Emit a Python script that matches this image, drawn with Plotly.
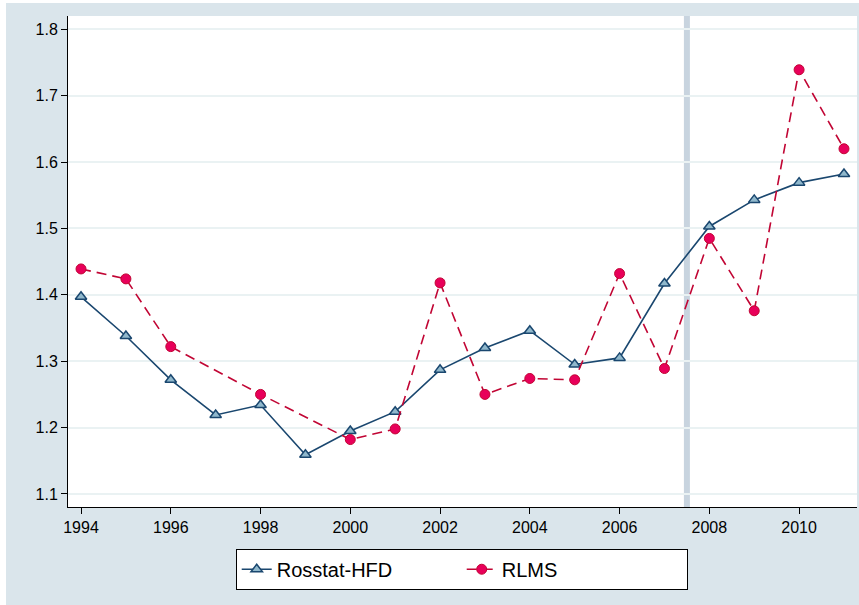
import plotly.graph_objects as go

years = list(range(1994, 2012))
rosstat_hfd = [1.397, 1.338, 1.272, 1.219, 1.234, 1.159, 1.195, 1.224, 1.287,
               1.320, 1.346, 1.295, 1.305, 1.417, 1.503, 1.543, 1.569, 1.582]

rlms_years = [1994, 1995, 1996, 1998, 2000, 2001, 2002, 2003, 2004, 2005,
              2006, 2007, 2008, 2009, 2010, 2011]
rlms = [1.439, 1.424, 1.322, 1.250, 1.182, 1.198, 1.418, 1.250, 1.274, 1.272,
        1.432, 1.289, 1.485, 1.376, 1.739, 1.620]

y_ticks = [1.1, 1.2, 1.3, 1.4, 1.5, 1.6, 1.7, 1.8]
x_ticks = list(range(1994, 2011, 2))
break_year = 2007.5

bg = "#dae5eb"
navy = "#1a476f"
cranberry = "#c10534"

fig = go.Figure()

# thin white strips round the stata-style background
fig.add_shape(type="rect", xref="paper", yref="paper", x0=-0.1, x1=-0.0786,
              y0=-0.3, y1=1.1, fillcolor="white", line_width=0)
fig.add_shape(type="rect", xref="paper", yref="paper", x0=-0.1, x1=1.1,
              y0=1.0265, y1=1.1, fillcolor="white", line_width=0)

fig.add_vline(x=break_year, line_color="#c8d4df", line_width=6, layer="below")

fig.add_trace(go.Scatter(
    x=years, y=rosstat_hfd, name="Rosstat-HFD", mode="lines+markers",
    line=dict(color=navy, width=1.6),
    marker=dict(symbol="triangle-up", size=10, color="#90b8cc",
                line=dict(color=navy, width=1.5)),
))
fig.add_trace(go.Scatter(
    x=rlms_years, y=rlms, name="RLMS", mode="lines+markers",
    line=dict(color=cranberry, width=1.6, dash="10px,6px"),
    marker=dict(symbol="circle", size=10, color="#e8005a",
                line=dict(color=cranberry, width=1)),
))

fig.update_layout(
    width=859, height=605,
    margin=dict(l=68, r=2, t=16, b=98),
    paper_bgcolor=bg, plot_bgcolor="white",
    font=dict(family="Liberation Sans, Arial, sans-serif", size=16, color="black"),
    showlegend=True,
    legend=dict(orientation="h", x=0.499, xanchor="center", y=-0.085, yanchor="top",
                bgcolor="white", bordercolor="black", borderwidth=1,
                font=dict(size=20), entrywidth=180, entrywidthmode="pixels"),
)
fig.update_xaxes(range=[1993.71, 2011.29], tickvals=x_ticks, ticks="outside",
                 ticklen=6, tickcolor="black", showgrid=False, showline=True,
                 linecolor="black", linewidth=1, zeroline=False)
fig.update_yaxes(range=[1.0804, 1.820], tickvals=y_ticks, ticktext=[f"{v:.1f}" for v in y_ticks],
                 ticks="outside", ticklen=6, tickcolor="black", showgrid=True,
                 gridcolor="#eaf2f3", gridwidth=1.5, showline=True,
                 linecolor="black", linewidth=1, zeroline=False)

fig.write_html("out.html", config={"displayModeBar": False},
               post_script="document.body.style.margin='0';")
